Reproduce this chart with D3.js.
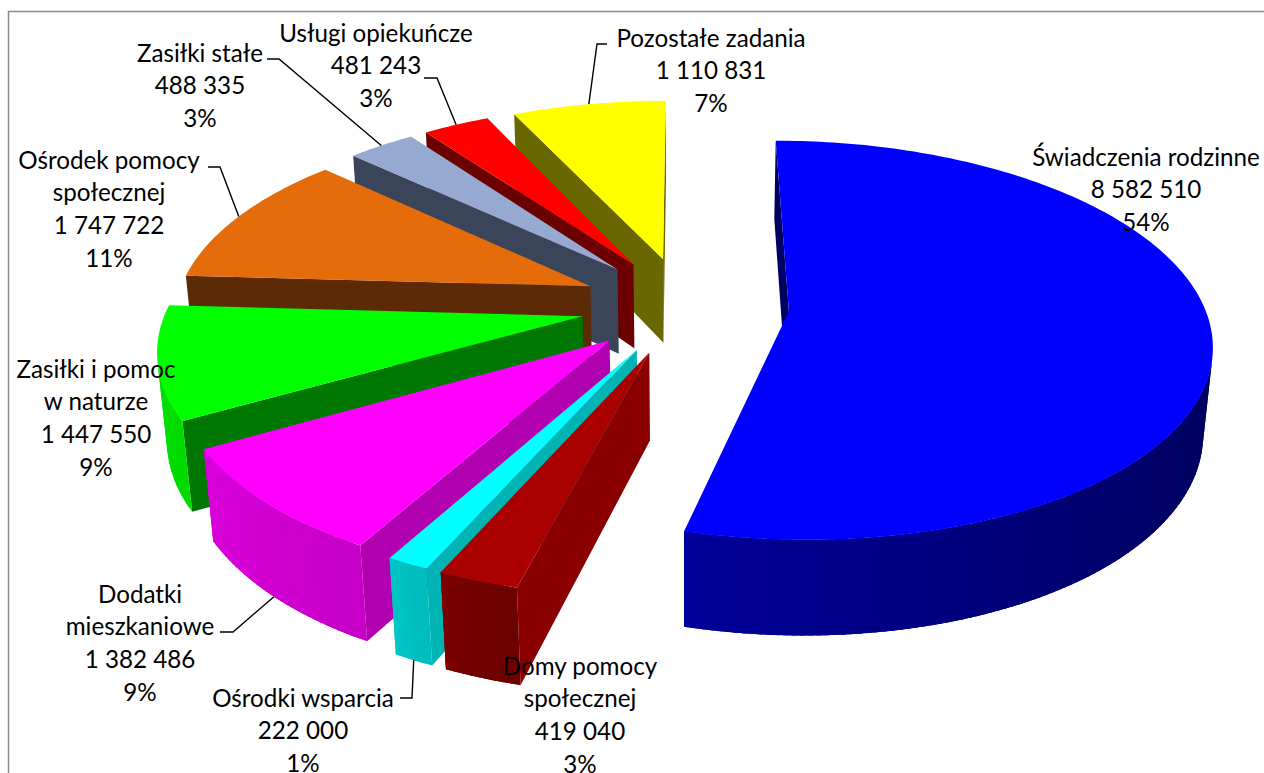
<!DOCTYPE html>
<html lang="pl">
<head>
<meta charset="utf-8">
<script src="https://cdnjs.cloudflare.com/ajax/libs/d3/7.8.5/d3.min.js"></script>
<style>
html,body{margin:0;padding:0;background:#fff;overflow:hidden}
svg{display:block}
text{font-family:Lato,"Noto Sans",sans-serif;font-size:24.2px;fill:#000}
</style>
</head>
<body>
<svg id="c" width="1264" height="773"></svg>
<script>
// ---- data (clockwise from 12 o'clock)
const categories = ["Świadczenia rodzinne","Domy pomocy społecznej","Ośrodki wsparcia","Dodatki mieszkaniowe","Zasiłki i pomoc w naturze","Ośrodek pomocy społecznej","Zasiłki stałe","Usługi opiekuńcze","Pozostałe zadania"];
const values = [8582510,419040,222000,1382486,1447550,1747722,488335,481243,1110831];
const valueLabels = ["8 582 510","419 040","222 000","1 382 486","1 447 550","1 747 722","488 335","481 243","1 110 831"];
const percentLabels = ["54%","3%","1%","9%","9%","11%","3%","3%","7%"];
const nameLines = [["Świadczenia rodzinne"],["Domy pomocy","społecznej"],["Ośrodki wsparcia"],["Dodatki","mieszkaniowe"],["Zasiłki i pomoc","w naturze"],["Ośrodek pomocy","społecznej"],["Zasiłki stałe"],["Usługi opiekuńcze"],["Pozostałe zadania"]];

// ---- styles
const topColors = ["#0000ff","#aa0000","#00ffff","#ff00ff","#00ff00","#e46c0a","#95a9d1","#ff0000","#ffff00"];
const cutColors = ["#000060","#8a0000","#00b4b4","#b000b0","#007700","#5c2a04","#3a4559","#6a0000","#6a6600"];

// ---- label layout: centre x, first-line centre y, line height
const labelX = [1146,580,303,140,96,109,200,376,711];
const labelY = [156,665,697,593,368,159,52,32,37];
const lineGap = 32.7;
// leader: label-side start, elbow, and the rim height it lands on (null = no leader)
const leaders = [null,null,
  {from:[400,698],elbow:[412,698],rimZ:-1,at:0.5},
  {from:[220,632],elbow:[233,632],rimZ:-1,at:0.5},
  null,
  {from:[208,167],elbow:[220,167],rimZ:0,at:0.5},
  {from:[267,59],elbow:[279,59],rimZ:0,at:0.5},
  {from:[424,78],elbow:[437,78],rimZ:0,at:0.5},
  {from:[607,44],elbow:[597,44],rimZ:0,at:0.5}];

// ---- camera
const cx=685, cy=305, P=415, D=6.1, E=27.8*Math.PI/180, H=0.238, EXPLODE=0.2513;
const F=P*D, sinE=Math.sin(E), cosE=Math.cos(E);
function project(u,v,z){
  const depth=D+v*cosE-z*sinE;
  return [cx+F*u/depth, cy-F*(v*sinE+z*cosE)/depth];
}

const svg=d3.select("#c");
svg.append("rect").attr("x",8.5).attr("y",11.5).attr("width",1300).attr("height",820)
   .attr("fill","#fff").attr("stroke","#8a8a8a").attr("stroke-width",1.5);

const arcs=d3.pie().sort(null).startAngle(0).endAngle(2*Math.PI)(values);
const shade=d3.scaleLinear().domain([-1,-0.45,-0.2,1]).range([0.88,0.77,0.6,0.37]);
const line=d3.line();
const poly=pts=>line(pts)+"Z";
const STEP=Math.PI/180;

function geom(d){
  const mid=(d.startAngle+d.endAngle)/2;
  const ox=EXPLODE*Math.sin(mid), oy=EXPLODE*Math.cos(mid);
  return {mid,
    rim:(t,z)=>project(ox+Math.sin(t),oy+Math.cos(t),z),
    apex:z=>project(ox,oy,z)};
}

// far-to-near painter's order: last slice first, first slice last
const order=d3.range(values.length).reverse();
const g=svg.append("g");
order.forEach(i=>{
  const d=arcs[i], s=geom(d), a0=d.startAngle, a1=d.endAngle;
  const sl=g.append("g").attr("class","slice");
  const steps=d3.range(a0,a1,STEP).concat([a1]);
  // cut faces
  const startWall=[s.apex(0),s.rim(a0,0),s.rim(a0,-H),s.apex(-H)];
  const endWall=[s.rim(a1,0),s.apex(0),s.apex(-H),s.rim(a1,-H)];
  [startWall,endWall].forEach(w=>{
    if(d3.polygonArea(w)>0) sl.append("path").attr("d",poly(w)).attr("fill",cutColors[i]);
  });
  // curved outer wall: each facet overlaps the next, so no seams appear
  const base=d3.rgb(topColors[i]);
  for(let k=steps.length-2;k>=0;k--){
    const t0=steps[k],t1=steps[k+1];
    if(d3.polygonArea([s.rim(t0,0),s.rim(t1,0),s.rim(t1,-H),s.rim(t0,-H)])<=0) continue;
    const t2=Math.min(a1,t1+STEP*1.5);
    const f=shade(Math.sin((t0+t1)/2));
    const c=d3.rgb(base.r*f,base.g*f,base.b*f).formatHex();
    sl.append("path").attr("d",poly([s.rim(t0,0),s.rim(t2,0),s.rim(t2,-H),s.rim(t0,-H)])).attr("fill",c);
  }
  // top
  sl.append("path").attr("d",poly([s.apex(0)].concat(steps.map(t=>s.rim(t,0)))))
    .attr("fill",topColors[i]);
});

// leaders
leaders.forEach((l,i)=>{
  if(!l) return;
  const d=arcs[i], s=geom(d);
  const end=s.rim(d.startAngle+(d.endAngle-d.startAngle)*l.at,l.rimZ*H);
  svg.append("path").attr("d",line([l.from,l.elbow,end])).attr("fill","none")
     .attr("stroke","#000").attr("stroke-width",1.4);
});

// labels
categories.forEach((c,i)=>{
  const lines=nameLines[i].concat([valueLabels[i],percentLabels[i]]);
  const t=svg.append("text").attr("text-anchor","middle");
  lines.forEach((ln,k)=>{
    t.append("tspan").attr("x",labelX[i]).attr("y",labelY[i]+k*lineGap)
     .attr("dominant-baseline","central").text(ln);
  });
});
</script>
</body>
</html>
